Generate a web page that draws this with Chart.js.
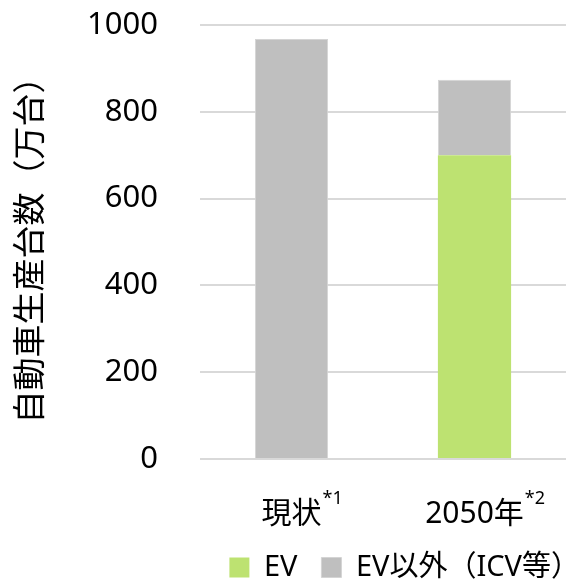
<!DOCTYPE html>
<html lang="ja">
<head>
<meta charset="utf-8">
<script src="https://cdn.jsdelivr.net/npm/chart.js@4.4.1/dist/chart.umd.min.js"></script>
<style>
  html, body { margin: 0; padding: 0; background: #fff; }
  #wrap { width: 566px; height: 580px; }
</style>
</head>
<body>
<div id="wrap"><canvas id="chart"></canvas></div>
<script>
const categories = ["現状", "2050年"];
const notes = ["*1", "*2"];
const evValues = [0, 700];
const otherValues = [968, 174];
const yMax = 1000;
const yStep = 200;

const FONT = "'Noto Sans', 'Noto Sans CJK JP', sans-serif";

// x labels with superscript notes
const noteLabels = {
  id: "noteLabels",
  afterDraw(chart) {
    const ctx = chart.ctx;
    const xs = chart.scales.x;
    const base = chart.chartArea.bottom + 64;
    ctx.save();
    ctx.fillStyle = "#000";
    ctx.textBaseline = "alphabetic";
    categories.forEach((c, i) => {
      const x = xs.getPixelForTick(i);
      ctx.font = "30px " + FONT;
      const w = ctx.measureText(c).width;
      ctx.textAlign = "left";
      ctx.fillText(c, x - w / 2, base);
      ctx.font = "18px " + FONT;
      ctx.fillText(notes[i], x + w / 2 + 1, base - 19);
    });
    ctx.restore();
  }
};

// push the legend row to the right like the original
const legendShift = {
  id: "legendShift",
  afterLayout(chart) {
    chart.legend.left += 38;
    chart.legend.right += 38;
  }
};

new Chart(document.getElementById("chart"), {
  type: "bar",
  data: {
    labels: categories,
    datasets: [
      {
        label: "EV",
        data: evValues,
        backgroundColor: "#bde271",
        barPercentage: 0.4,
        categoryPercentage: 1
      },
      {
        label: "EV以外（ICV等）",
        data: otherValues,
        backgroundColor: "#bfbfbf",
        borderColor: "#d4d4d4",
        borderWidth: 1,
        barPercentage: 0.4,
        categoryPercentage: 1
      }
    ]
  },
  options: {
    responsive: true,
    maintainAspectRatio: false,
    animation: false,
    layout: { padding: { top: 25, right: 0, left: 0, bottom: -12 } },
    scales: {
      x: {
        stacked: true,
        grid: { display: false },
        border: { display: false },
        ticks: { display: false },
        afterFit(scale) { scale.height = 70; }
      },
      y: {
        stacked: true,
        min: 0,
        max: yMax,
        ticks: {
          stepSize: yStep,
          padding: 42,
          color: "#000",
          font: { family: FONT, size: 31 },
          callback: (v) => String(v)
        },
        grid: { color: "#d9d9d9", lineWidth: 2, drawTicks: false },
        border: { display: false },
        title: {
          display: true,
          text: "自動車生産台数（万台）",
          color: "#000",
          font: { family: FONT, size: 33 },
          padding: { top: 12, bottom: 0 }
        },
        afterFit(scale) {
          scale.width = 200;
          scale.paddingTop = 0;
          scale.paddingBottom = 0;
        }
      }
    },
    plugins: {
      legend: {
        position: "bottom",
        align: "end",
        labels: {
          color: "#000",
          boxWidth: 20,
          boxHeight: 20,
          padding: 24,
          font: { family: FONT, size: 29, lineHeight: 1 }
        }
      },
      tooltip: { enabled: false }
    }
  },
  plugins: [noteLabels, legendShift]
});
</script>
</body>
</html>
